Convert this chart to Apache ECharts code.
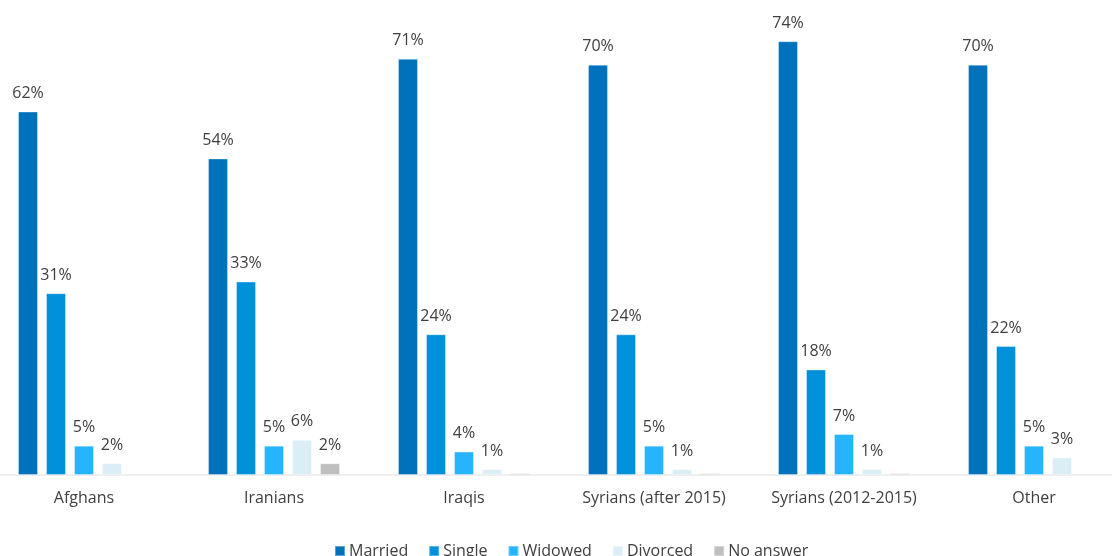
<!DOCTYPE html>
<html>
<head>
<meta charset="utf-8">
<script src="https://cdn.jsdelivr.net/npm/echarts@6/dist/echarts.min.js"></script>
<style>
  html, body { margin: 0; padding: 0; background: #ffffff; }
  #chart { width: 1112px; height: 556px; }
</style>
</head>
<body>
<div id="chart"></div>
<script>
// Marital status by group of origin (percent)
const categories = ['Afghans', 'Iranians', 'Iraqis', 'Syrians (after 2015)', 'Syrians (2012-2015)', 'Other'];
const seriesNames = ['Married', 'Single', 'Widowed', 'Divorced', 'No answer'];
const married  = [62, 54, 71, 70, 74, 70];
const single   = [31, 33, 24, 24, 18, 22];
const widowed  = [5, 5, 4, 5, 7, 5];
const divorced = [2, 6, 1, 1, 1, 3];
const noAnswer = [null, 2, 0.3, 0.3, 0.3, null];
const colors = ['#0072BC', '#0091DA', '#27B4FF', '#DAEEF6', '#BFBFBF'];

const values = [married, single, widowed, divorced, noAnswer];

const chart = echarts.init(document.getElementById('chart'), null, { renderer: 'canvas' });

const series = values.map((data, i) => ({
  name: seriesNames[i],
  type: 'bar',
  data: data,
  barWidth: 20,
  barGap: '40%',
  itemStyle: { color: colors[i], borderColor: 'rgba(255,255,255,0.35)', borderWidth: 1 },
  label: {
    show: true,
    position: 'top',
    distance: 10,
    color: '#404040',
    fontFamily: 'Open Sans',
    fontSize: 16,
    formatter: p => (p.value == null || p.value < 0.5) ? '' : Math.round(p.value) + '%'
  }
}));

chart.setOption({
  animation: false,
  color: colors,
  grid: { left: -11, width: 1140, top: 6, bottom: 81, outerBoundsMode: 'none', containLabel: false },
  legend: {
    bottom: -8,
    left: 329,
    itemWidth: 10,
    itemHeight: 10,
    itemGap: 20,
    icon: 'rect',
    textStyle: { color: '#404040', fontFamily: 'Open Sans', fontSize: 16, padding: [0, 0, 0, -1] },
    data: seriesNames
  },
  xAxis: {
    type: 'category',
    data: categories,
    axisLine: { lineStyle: { color: '#EFEFEF', width: 2 } },
    axisTick: { show: false },
    axisLabel: { color: '#404040', fontFamily: 'Open Sans', fontSize: 16, margin: 15 }
  },
  yAxis: {
    type: 'value',
    min: 0,
    max: 80,
    show: false,
    splitLine: { show: false }
  },
  series: series
});
</script>
</body>
</html>
